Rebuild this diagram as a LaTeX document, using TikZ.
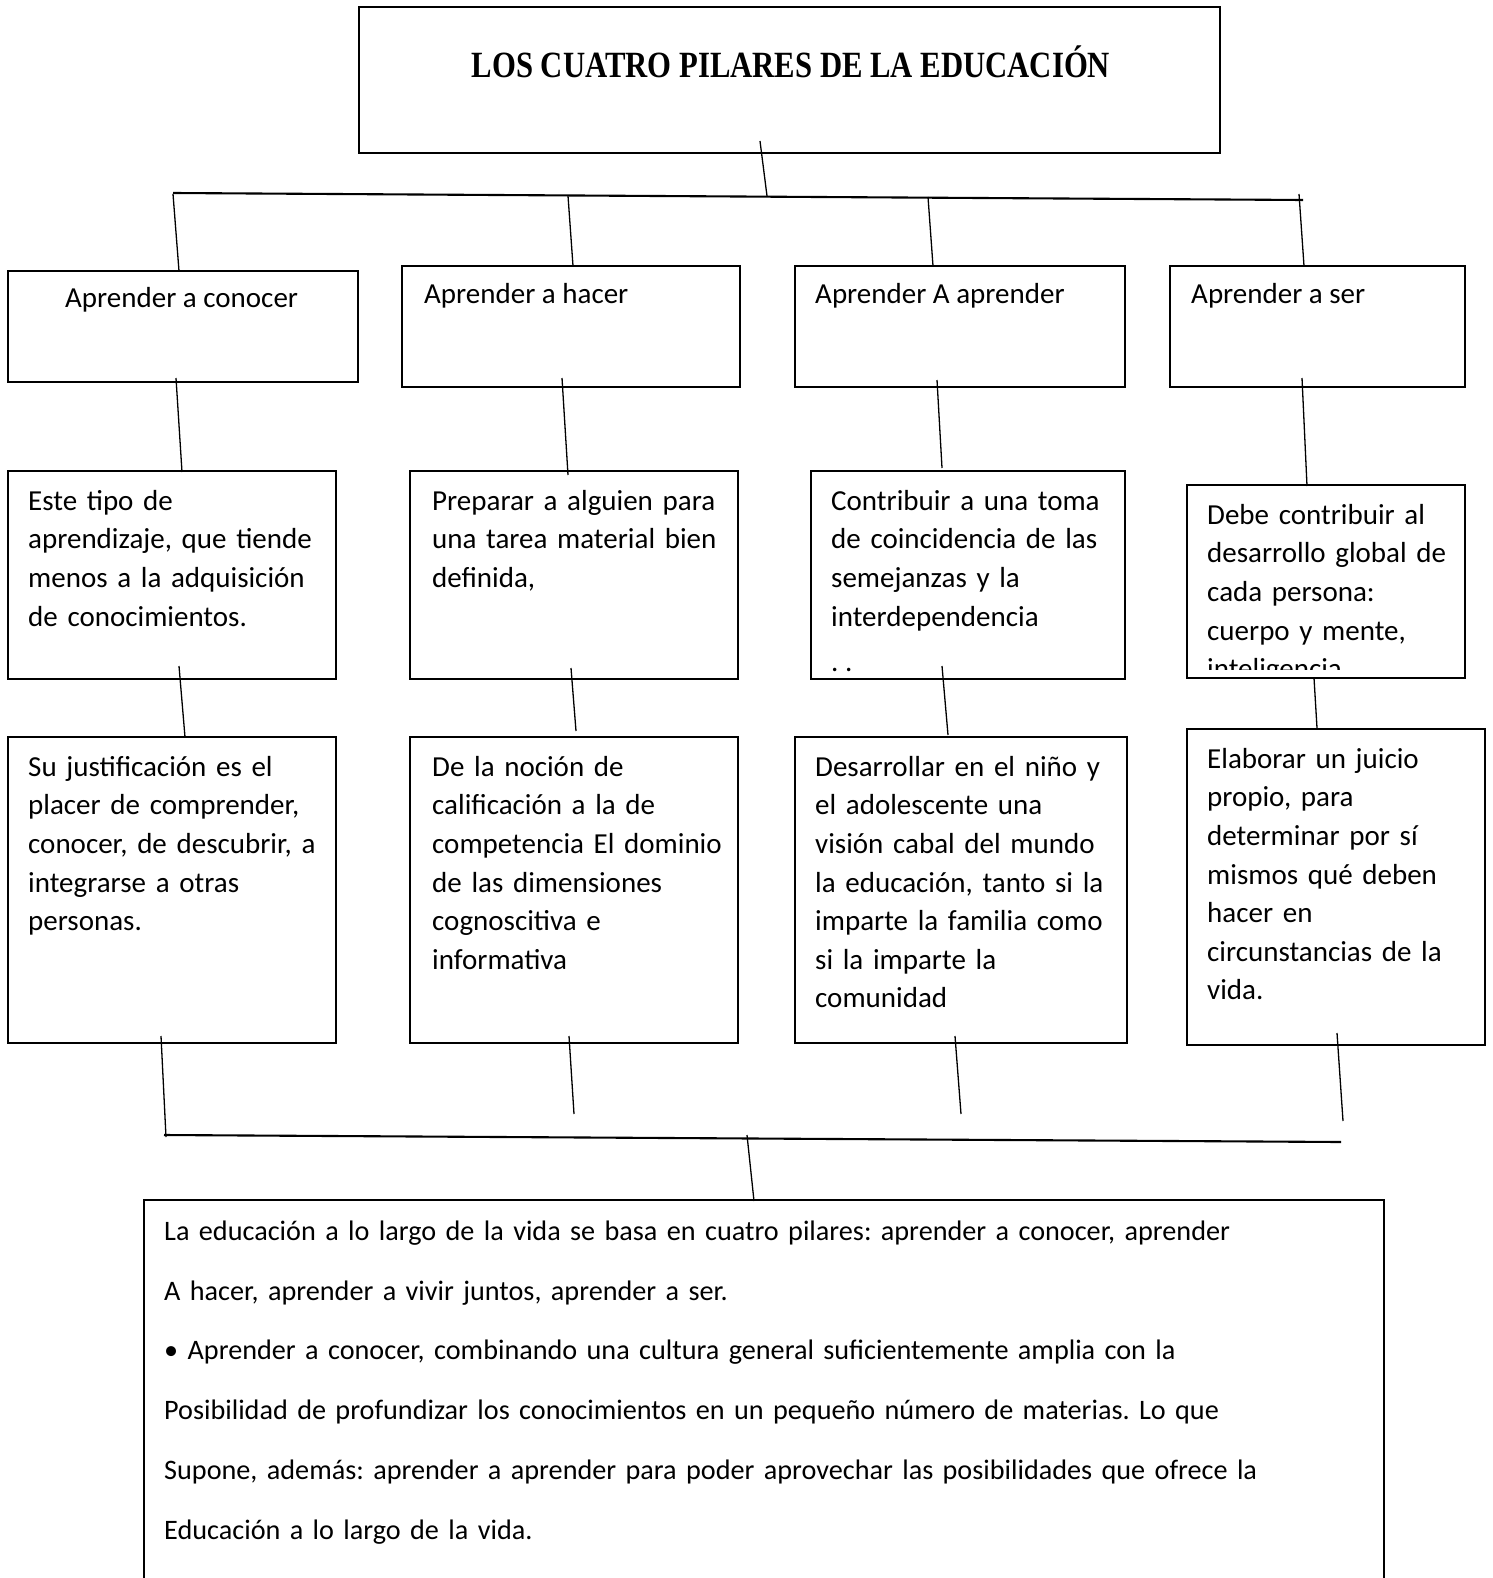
\documentclass[tikz,border=0pt]{standalone}
\usepackage{fontspec}
\setmainfont{Carlito}
\newfontfamily\titlefont[FakeStretch=0.83]{Liberation Serif}
\newcommand{\mybox}[5]{\node[box, minimum width={(#4-#2)*1pt}, minimum height={(#5-#3)*1pt}] (#1) at ({(#2+#4)/2},{(#3+#5)/2}) {};}
\newcommand{\fs}{\rule{0pt}{24pt}}
\frenchspacing
\begin{document}
\begin{tikzpicture}[x=1pt,y=-1pt,
  box/.style={draw, rectangle, line width=1.6pt, inner sep=0pt},
  conn/.style={line width=1.3pt},
  bus/.style={line width=2.1pt},
  lbl/.style={anchor=base west, inner sep=0pt, font=\fontsize{29}{38.6}\selectfont},
  txt/.style={anchor=north west, inner sep=0pt, align=left, text width=560pt, font=\frenchspacing\fontsize{29}{38.6}\selectfont},
  wide/.style={anchor=north west, inner sep=0pt, align=left, text width=1260pt, font=\frenchspacing\fontsize{28.2}{59.8}\selectfont}]
\useasboundingbox (0,0) rectangle (1492,1578);
\clip (0,0) rectangle (1492,1578);
\fill[white] (0,0) rectangle (1492,1578);

% title
\mybox{title}{359}{7}{1220}{153}
\node[anchor=base, inner sep=0pt, font=\titlefont\bfseries\fontsize{37}{42}\selectfont] (titletext) at (791,78) {LOS CUATRO PILARES DE LA EDUCACIÓN};

% row 1
\mybox{b1}{8}{271}{358}{382}
\mybox{b2}{402}{266}{740}{387}
\mybox{b3}{795}{266}{1125}{387}
\mybox{b4}{1170}{266}{1465}{387}
\node[lbl] (b1t) at (65,308) {Aprender a conocer};
\node[lbl] (b2t) at (424,304) {Aprender a hacer};
\node[lbl] (b3t) at (815,304) {Aprender A aprender};
\node[lbl] (b4t) at (1191,304) {Aprender a ser};

% row 2
\mybox{c1}{8}{471}{336}{679}
\mybox{c2}{410}{471}{738}{679}
\mybox{c3}{811}{471}{1125}{679}
\mybox{c4}{1187}{485}{1465}{678}
\node[txt] (c1t) at (28,486) {\fs Este tipo de\\aprendizaje, que tiende\\menos a la adquisición\\de conocimientos.};
\node[txt] (c2t) at (432,486) {\fs Preparar a alguien para\\una tarea material bien\\definida,};
\node[txt] (c3t) at (831,486) {\fs Contribuir a una toma\\de coincidencia de las\\semejanzas y la\\interdependencia};
\node[lbl] (c3d) at (831,671) {. .};
\begin{scope}
\clip (1187,485) rectangle (1465,669);
\node[txt] (c4t) at (1207,500) {\fs Debe contribuir al\\desarrollo global de\\cada persona:\\cuerpo y mente,\\inteligencia};
\end{scope}

% row 3
\mybox{d1}{8}{737}{336}{1043}
\mybox{d2}{410}{737}{738}{1043}
\mybox{d3}{795}{737}{1127}{1043}
\mybox{d4}{1187}{729}{1485}{1045}
\node[txt] (d1t) at (28,752) {\fs Su justificación es el\\placer de comprender,\\conocer, de descubrir, a\\integrarse a otras\\personas.};
\node[txt] (d2t) at (432,752) {\fs De la noción de\\calificación a la de\\competencia El dominio\\de las dimensiones\\cognoscitiva e\\informativa};
\node[txt] (d3t) at (815,752) {\fs Desarrollar en el niño y\\el adolescente una\\visión cabal del mundo\\la educación, tanto si la\\imparte la familia como\\si la imparte la\\comunidad};
\node[txt] (d4t) at (1207,744) {\fs Elaborar un juicio\\propio, para\\determinar por sí\\mismos qué deben\\hacer en\\circunstancias de la\\vida.};

% bottom box
\mybox{e}{144}{1200}{1384}{1620}
\node[wide] (et) at (164,1216) {\fs La educación a lo largo de la vida se basa en cuatro pilares: aprender a conocer, aprender\\A hacer, aprender a vivir juntos, aprender a ser.\\• Aprender a conocer, combinando una cultura general suficientemente amplia con la\\Posibilidad de profundizar los conocimientos en un pequeño número de materias. Lo que\\Supone, además: aprender a aprender para poder aprovechar las posibilidades que ofrece la\\Educación a lo largo de la vida.};

% connector coordinates
\coordinate (tA) at (760,141); \coordinate (tB) at (767,196);
\coordinate (busL) at (173,193); \coordinate (busR) at (1303,200);
\coordinate (u1a) at (173,194); \coordinate (u1b) at (179,271);
\coordinate (u2a) at (568,196); \coordinate (u2b) at (573,266);
\coordinate (u3a) at (928,197); \coordinate (u3b) at (933,266);
\coordinate (u4a) at (1299,194); \coordinate (u4b) at (1304,266);
\coordinate (v1a) at (176,378); \coordinate (v1b) at (182,472);
\coordinate (v2a) at (562,378); \coordinate (v2b) at (568,475);
\coordinate (v3a) at (937,380); \coordinate (v3b) at (942,468);
\coordinate (v4a) at (1302,378); \coordinate (v4b) at (1307,486);
\coordinate (w1a) at (179,666); \coordinate (w1b) at (185,737);
\coordinate (w2a) at (571,668); \coordinate (w2b) at (576,731);
\coordinate (w3a) at (942,666); \coordinate (w3b) at (948,735);
\coordinate (w4a) at (1314,678); \coordinate (w4b) at (1317,728);
\coordinate (x1a) at (161,1036); \coordinate (x1b) at (166,1137);
\coordinate (x2a) at (569,1036); \coordinate (x2b) at (574,1114);
\coordinate (x3a) at (955,1036); \coordinate (x3b) at (961,1114);
\coordinate (x4a) at (1337,1033); \coordinate (x4b) at (1343,1121);
\coordinate (lowL) at (164,1135); \coordinate (lowR) at (1341,1142);
\coordinate (eA) at (747,1135); \coordinate (eB) at (754,1201);

\draw[conn] (tA) -- (tB);
\draw[bus] (busL) -- (busR);
\foreach \n in {1,2,3,4}{
  \draw[conn] (u\n a) -- (u\n b);
  \draw[conn] (v\n a) -- (v\n b);
  \draw[conn] (w\n a) -- (w\n b);
  \draw[conn] (x\n a) -- (x\n b);
}
\draw[bus] (lowL) -- (lowR);
\draw[conn] (eA) -- (eB);
\end{tikzpicture}
\end{document}
